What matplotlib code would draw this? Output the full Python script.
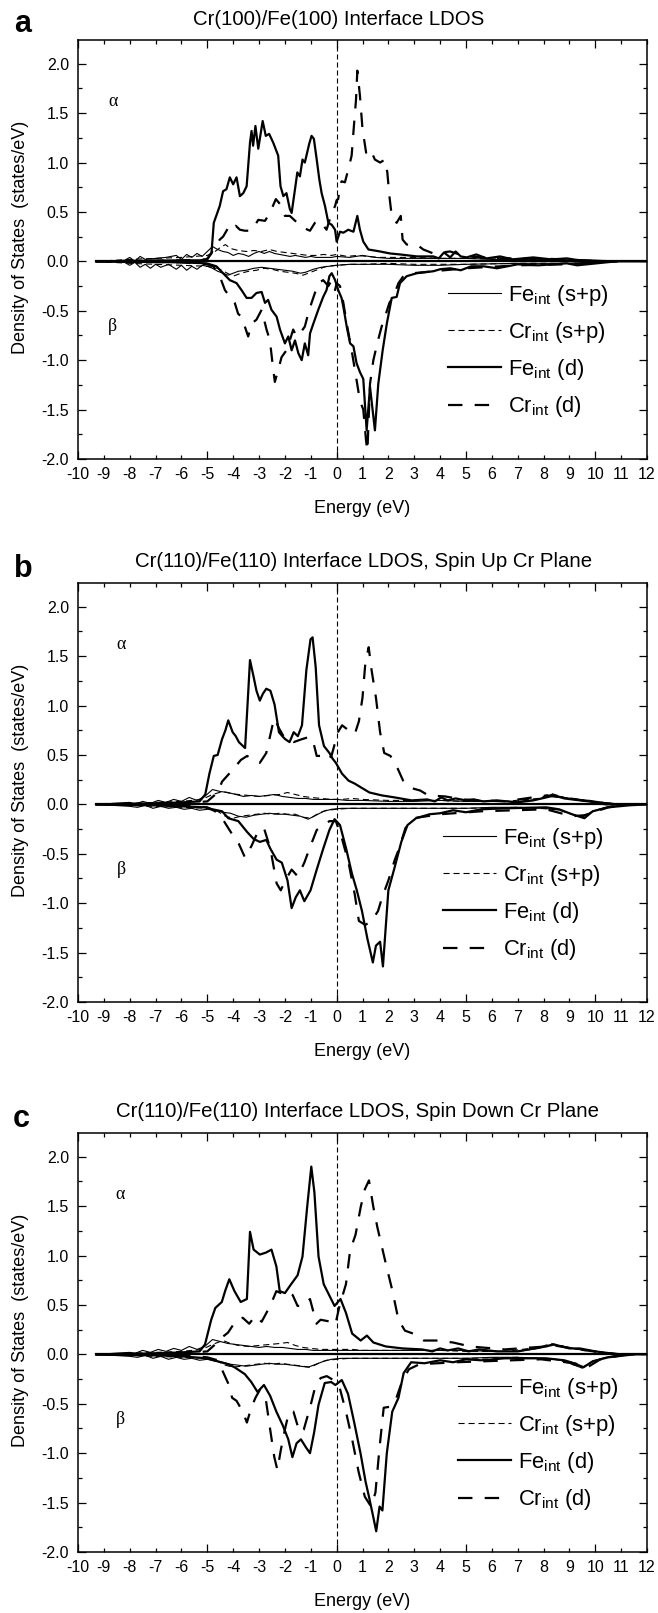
import matplotlib
matplotlib.use('Agg')
import matplotlib.pyplot as plt
from matplotlib.ticker import MultipleLocator, FuncFormatter

plt.rcParams['font.family'] = ['Liberation Sans', 'DejaVu Sans']
plt.rcParams['mathtext.fontset'] = 'custom'
plt.rcParams['mathtext.rm'] = 'Liberation Sans'
plt.rcParams['mathtext.it'] = 'Liberation Sans:italic'
plt.rcParams['mathtext.default'] = 'regular'
plt.rcParams['axes.unicode_minus'] = False

# ---------------- data (energy in eV, DOS in states/eV) ----------------
titles = ["Cr(100)/Fe(100) Interface LDOS",
          "Cr(110)/Fe(110) Interface LDOS, Spin Up Cr Plane",
          "Cr(110)/Fe(110) Interface LDOS, Spin Down Cr Plane"]
panel_letters = ["a", "b", "c"]
legend_labels = ["Fe$_{int}$ (s+p)", "Cr$_{int}$ (s+p)", "Fe$_{int}$ (d)", "Cr$_{int}$ (d)"]

# ---- panel a ----
a_fe_sp_up_E = [-9.3, -8.2, -8.0, -7.8, -7.6, -7.4, -7.0, -6.6, -6.2, -6.0, -5.8, -5.6, -5.4, -5.2, -5.0, -4.8, -4.6, -4.4, -4.2, -4.0, -3.8, -3.6, -3.4, -3.2, -3.0, -2.8, -2.6, -2.4, -2.2, -2.0, -1.8, -1.6, -1.4, -1.2, -1.0, -0.8, -0.5, -0.2, 0.0, 0.5, 1.0, 1.5, 2.0, 3.0, 4.0, 5.0, 6.0, 8.0, 10.0, 11.0]
a_fe_sp_up = [0.0, 0.01, 0.04, 0.0, 0.05, 0.02, 0.03, 0.04, 0.06, 0.02, 0.07, 0.04, 0.08, 0.05, 0.1, 0.15, 0.12, 0.1, 0.09, 0.06, 0.08, 0.07, 0.05, 0.08, 0.1, 0.08, 0.1, 0.08, 0.07, 0.06, 0.05, 0.06, 0.05, 0.04, 0.05, 0.04, 0.04, 0.04, 0.05, 0.04, 0.06, 0.04, 0.03, 0.03, 0.03, 0.03, 0.02, 0.02, 0.01, 0.0]
a_cr_sp_up_E = [-9.3, -8.0, -7.0, -6.0, -5.5, -5.0, -4.7, -4.5, -4.3, -4.1, -3.8, -3.5, -3.2, -2.9, -2.6, -2.3, -2.0, -1.7, -1.4, -1.1, -0.8, -0.5, -0.2, 0.0, 0.4, 0.8, 1.2, 1.6, 2.0, 3.0, 4.0, 5.0, 7.0, 9.0, 11.0]
a_cr_sp_up = [0.0, 0.02, 0.03, 0.04, 0.05, 0.06, 0.1, 0.14, 0.17, 0.13, 0.11, 0.1, 0.11, 0.1, 0.12, 0.1, 0.09, 0.08, 0.07, 0.06, 0.06, 0.07, 0.06, 0.07, 0.05, 0.06, 0.05, 0.04, 0.04, 0.04, 0.03, 0.03, 0.02, 0.01, 0.0]
a_fe_sp_dn_E = [-9.3, -8.2, -8.0, -7.8, -7.6, -7.4, -7.2, -7.0, -6.8, -6.5, -6.2, -6.0, -5.8, -5.6, -5.4, -5.2, -5.0, -4.8, -4.6, -4.4, -4.2, -4.0, -3.8, -3.5, -3.2, -2.9, -2.6, -2.3, -2.0, -1.7, -1.4, -1.2, -0.9, -0.6, -0.3, 0.0, 0.5, 1.0, 2.0, 3.0, 4.0, 5.0, 7.0, 9.0, 11.0]
a_fe_sp_dn = [0.0, -0.01, -0.04, -0.01, -0.06, -0.03, -0.07, -0.03, -0.06, -0.03, -0.08, -0.04, -0.09, -0.05, -0.08, -0.04, -0.05, -0.07, -0.1, -0.12, -0.14, -0.12, -0.1, -0.09, -0.07, -0.06, -0.07, -0.08, -0.09, -0.1, -0.12, -0.11, -0.08, -0.06, -0.05, -0.04, -0.03, -0.03, -0.03, -0.04, -0.04, -0.03, -0.02, -0.02, 0.0]
a_cr_sp_dn_E = [-9.3, -8.0, -7.0, -6.0, -5.0, -4.6, -4.3, -4.0, -3.7, -3.4, -3.1, -2.8, -2.5, -2.2, -1.9, -1.6, -1.3, -1.0, -0.7, -0.4, 0.0, 0.5, 1.0, 2.0, 3.0, 5.0, 7.0, 9.0, 11.0]
a_cr_sp_dn = [0.0, -0.02, -0.03, -0.04, -0.05, -0.07, -0.11, -0.15, -0.12, -0.1, -0.09, -0.07, -0.08, -0.1, -0.11, -0.12, -0.14, -0.11, -0.08, -0.05, -0.04, -0.03, -0.03, -0.02, -0.03, -0.03, -0.02, -0.02, 0.0]
a_fe_d_up_E = [-9.3, -6.0, -5.3, -5.03, -4.84, -4.75, -4.52, -4.39, -4.26, -4.13, -4.0, -3.87, -3.74, -3.61, -3.48, -3.35, -3.29, -3.23, -3.14, -3.03, -2.86, -2.74, -2.61, -2.45, -2.26, -2.17, -2.06, -1.94, -1.81, -1.74, -1.61, -1.52, -1.42, -1.32, -1.23, -1.06, -0.97, -0.88, -0.77, -0.67, -0.58, -0.45, -0.32, -0.19, -0.06, 0.0, 0.13, 0.26, 0.45, 0.65, 0.8, 0.9, 1.03, 1.23, 1.68, 2.06, 2.45, 3.1, 3.74, 3.95, 4.15, 4.39, 4.6, 4.8, 5.03, 5.4, 5.8, 6.32, 6.8, 7.6, 8.3, 8.9, 9.4, 10.8, 12.0]
a_fe_d_up = [0.0, 0.01, 0.01, 0.02, 0.08, 0.39, 0.56, 0.71, 0.73, 0.85, 0.78, 0.85, 0.66, 0.69, 0.76, 1.2, 1.32, 1.17, 1.37, 1.14, 1.42, 1.27, 1.29, 1.2, 1.07, 0.76, 0.66, 0.69, 0.53, 0.49, 0.73, 0.9, 0.86, 1.03, 1.0, 1.19, 1.27, 1.24, 1.03, 0.83, 0.69, 0.56, 0.39, 0.37, 0.32, 0.2, 0.3, 0.29, 0.32, 0.3, 0.46, 0.32, 0.2, 0.12, 0.1, 0.08, 0.07, 0.05, 0.05, 0.03, 0.09, 0.04, 0.1, 0.05, 0.04, 0.07, 0.03, 0.05, 0.02, 0.04, 0.02, 0.03, 0.01, 0.0, 0.0]
a_fe_d_dn_E = [-9.3, -6.0, -5.03, -4.65, -4.39, -4.13, -3.87, -3.68, -3.48, -3.29, -3.1, -2.9, -2.77, -2.65, -2.52, -2.32, -2.19, -2.0, -1.87, -1.74, -1.61, -1.48, -1.35, -1.23, -1.1, -1.03, -0.9, -0.71, -0.52, -0.39, -0.28, -0.19, -0.06, 0.06, 0.19, 0.26, 0.39, 0.52, 0.65, 0.77, 0.9, 1.03, 1.16, 1.29, 1.48, 1.61, 1.78, 1.94, 2.13, 2.32, 2.45, 2.71, 3.1, 3.74, 4.0, 4.39, 4.8, 5.2, 5.68, 6.2, 7.0, 7.8, 8.9, 9.3, 10.8]
a_fe_d_dn = [0.0, -0.01, -0.02, -0.05, -0.12, -0.19, -0.22, -0.29, -0.37, -0.37, -0.32, -0.31, -0.42, -0.39, -0.49, -0.56, -0.69, -0.83, -0.76, -0.9, -0.8, -0.93, -1.0, -0.83, -0.95, -0.73, -0.63, -0.49, -0.36, -0.29, -0.15, -0.12, -0.19, -0.29, -0.37, -0.46, -0.66, -0.83, -0.86, -1.03, -1.12, -1.19, -1.71, -1.27, -1.71, -1.24, -0.9, -0.63, -0.37, -0.36, -0.22, -0.15, -0.12, -0.1, -0.08, -0.07, -0.09, -0.05, -0.05, -0.07, -0.03, -0.04, -0.02, -0.04, 0.0]
a_cr_d_up_E = [-9.3, -6.0, -5.0, -4.52, -4.39, -4.19, -4.06, -3.9, -3.74, -3.55, -3.29, -3.03, -2.77, -2.58, -2.35, -2.19, -2.0, -1.81, -1.52, -1.29, -1.03, -0.84, -0.65, -0.39, -0.19, -0.06, 0.0, 0.06, 0.13, 0.19, 0.32, 0.45, 0.58, 0.65, 0.75, 0.8, 0.9, 1.0, 1.14, 1.29, 1.48, 1.68, 1.87, 1.96, 2.04, 2.13, 2.32, 2.48, 2.55, 2.71, 3.1, 3.35, 3.74, 4.39, 5.0, 6.3, 7.5, 8.9, 10.2, 11.0]
a_cr_d_up = [0.0, 0.01, 0.02, 0.22, 0.25, 0.34, 0.31, 0.36, 0.32, 0.31, 0.31, 0.42, 0.41, 0.49, 0.63, 0.58, 0.46, 0.46, 0.39, 0.34, 0.31, 0.39, 0.41, 0.32, 0.49, 0.56, 0.62, 0.63, 0.76, 0.81, 0.8, 0.93, 1.07, 1.31, 1.64, 1.93, 1.68, 1.34, 1.1, 1.14, 1.03, 1.0, 1.03, 0.9, 0.66, 0.46, 0.39, 0.46, 0.22, 0.17, 0.17, 0.12, 0.08, 0.1, 0.05, 0.03, 0.03, 0.02, 0.0, 0.0]
a_cr_d_dn_E = [-9.3, -6.0, -5.0, -4.77, -4.52, -4.32, -4.13, -3.94, -3.81, -3.68, -3.42, -3.29, -3.1, -2.9, -2.71, -2.58, -2.48, -2.39, -2.26, -2.13, -1.94, -1.81, -1.68, -1.55, -1.42, -1.23, -1.1, -0.97, -0.84, -0.71, -0.52, -0.32, -0.19, -0.06, 0.0, 0.13, 0.26, 0.39, 0.58, 0.77, 0.9, 1.03, 1.14, 1.19, 1.29, 1.42, 1.57, 1.74, 1.87, 2.04, 2.19, 2.39, 2.58, 2.97, 3.74, 5.0, 7.0, 8.9, 10.5]
a_cr_d_dn = [0.0, -0.01, -0.03, -0.05, -0.15, -0.29, -0.36, -0.42, -0.53, -0.56, -0.76, -0.63, -0.59, -0.49, -0.69, -0.8, -1.03, -1.22, -1.1, -0.97, -0.9, -0.8, -0.69, -0.76, -0.73, -0.66, -0.53, -0.42, -0.32, -0.22, -0.19, -0.25, -0.19, -0.29, -0.22, -0.25, -0.42, -0.63, -0.9, -1.2, -1.41, -1.5, -1.82, -1.92, -1.24, -1.0, -0.83, -0.66, -0.56, -0.42, -0.36, -0.22, -0.15, -0.12, -0.1, -0.07, -0.04, -0.03, 0.0]

# ---- panel b ----
b_fe_sp_up_E = [-9.3, -8.0, -7.8, -7.5, -7.2, -6.9, -6.6, -6.3, -6.0, -5.7, -5.4, -5.1, -4.8, -4.5, -4.2, -3.9, -3.6, -3.3, -3.0, -2.7, -2.4, -2.1, -1.8, -1.5, -1.2, -0.9, -0.6, -0.3, 0.0, 0.4, 1.0, 2.0, 3.0, 4.0, 5.0, 6.0, 7.0, 7.8, 8.3, 8.8, 9.3, 9.8, 10.3, 11.0]
b_fe_sp_up = [0.0, 0.02, 0.0, 0.03, 0.01, 0.04, 0.02, 0.05, 0.03, 0.07, 0.04, 0.08, 0.15, 0.13, 0.12, 0.1, 0.08, 0.09, 0.08, 0.09, 0.1, 0.08, 0.07, 0.06, 0.06, 0.05, 0.05, 0.05, 0.05, 0.04, 0.04, 0.03, 0.03, 0.04, 0.03, 0.03, 0.03, 0.05, 0.1, 0.07, 0.05, 0.04, 0.02, 0.0]
b_cr_sp_up_E = [-9.3, -8.0, -7.0, -6.0, -5.2, -4.8, -4.4, -4.1, -3.8, -3.4, -3.0, -2.6, -2.2, -1.9, -1.6, -1.3, -1.0, -0.6, -0.2, 0.2, 0.6, 1.0, 2.0, 3.0, 4.0, 5.0, 6.5, 7.8, 8.3, 8.8, 9.5, 10.3, 11.0]
b_cr_sp_up = [0.0, 0.01, 0.02, 0.03, 0.05, 0.1, 0.13, 0.11, 0.1, 0.09, 0.08, 0.09, 0.1, 0.12, 0.1, 0.08, 0.07, 0.06, 0.05, 0.05, 0.06, 0.05, 0.04, 0.04, 0.04, 0.03, 0.03, 0.06, 0.11, 0.07, 0.04, 0.02, 0.0]
b_fe_sp_dn_E = [-9.3, -8.0, -7.7, -7.4, -7.1, -6.8, -6.5, -6.2, -5.9, -5.6, -5.3, -5.0, -4.7, -4.4, -4.1, -3.8, -3.5, -3.2, -2.9, -2.6, -2.3, -2.0, -1.7, -1.4, -1.1, -0.8, -0.5, -0.2, 0.2, 1.0, 2.0, 3.0, 4.0, 5.0, 6.0, 7.0, 8.0, 8.7, 9.1, 9.5, 9.9, 10.4, 11.2]
b_fe_sp_dn = [0.0, -0.02, -0.03, -0.01, -0.04, -0.02, -0.04, -0.03, -0.05, -0.04, -0.06, -0.05, -0.06, -0.08, -0.09, -0.12, -0.13, -0.11, -0.1, -0.09, -0.1, -0.1, -0.11, -0.12, -0.15, -0.11, -0.07, -0.05, -0.04, -0.04, -0.04, -0.04, -0.04, -0.04, -0.03, -0.03, -0.04, -0.06, -0.1, -0.13, -0.07, -0.03, 0.0]
b_cr_sp_dn_E = [-9.3, -8.0, -7.0, -6.0, -5.0, -4.6, -4.3, -4.0, -3.7, -3.4, -3.1, -2.8, -2.5, -2.2, -1.9, -1.6, -1.3, -1.0, -0.7, -0.4, 0.0, 0.5, 1.5, 3.0, 5.0, 7.0, 8.5, 9.2, 9.5, 10.0, 10.6, 11.2]
b_cr_sp_dn = [0.0, -0.01, -0.02, -0.03, -0.04, -0.07, -0.12, -0.14, -0.12, -0.11, -0.1, -0.09, -0.1, -0.09, -0.1, -0.1, -0.13, -0.14, -0.09, -0.06, -0.05, -0.04, -0.04, -0.04, -0.04, -0.03, -0.05, -0.11, -0.12, -0.06, -0.02, 0.0]
b_fe_d_up_E = [-9.3, -7.0, -6.0, -5.3, -5.08, -4.92, -4.75, -4.6, -4.43, -4.3, -4.19, -4.02, -3.9, -3.78, -3.54, -3.46, -3.35, -3.21, -3.1, -2.97, -2.85, -2.72, -2.56, -2.4, -2.23, -2.1, -1.99, -1.82, -1.66, -1.5, -1.34, -1.17, -1.01, -0.93, -0.81, -0.68, -0.49, -0.28, -0.15, -0.03, 0.21, 0.46, 0.7, 0.95, 1.27, 1.76, 2.25, 2.9, 3.5, 3.8, 4.04, 4.3, 4.6, 5.0, 5.3, 5.67, 6.2, 6.97, 7.6, 8.1, 8.4, 8.8, 9.1, 9.75, 10.4, 12.0]
b_fe_d_up = [0.0, 0.01, 0.02, 0.03, 0.1, 0.31, 0.49, 0.5, 0.66, 0.75, 0.85, 0.73, 0.69, 0.63, 0.57, 0.94, 1.46, 1.29, 1.15, 1.05, 1.12, 1.17, 1.15, 1.01, 0.73, 0.69, 0.66, 0.63, 0.73, 0.69, 0.8, 1.36, 1.67, 1.69, 1.39, 0.8, 0.59, 0.52, 0.46, 0.42, 0.31, 0.24, 0.21, 0.17, 0.12, 0.09, 0.07, 0.04, 0.05, 0.03, 0.07, 0.04, 0.06, 0.04, 0.05, 0.03, 0.04, 0.02, 0.04, 0.07, 0.09, 0.06, 0.05, 0.03, 0.0, 0.0]
b_fe_d_dn_E = [-9.3, -7.0, -6.0, -5.08, -4.8, -4.43, -4.19, -3.8, -3.46, -3.21, -2.97, -2.72, -2.56, -2.32, -2.12, -1.9, -1.74, -1.58, -1.42, -1.25, -1.01, -0.77, -0.52, -0.28, -0.08, 0.13, 0.37, 0.59, 0.78, 0.98, 1.19, 1.4, 1.52, 1.68, 1.79, 2.0, 2.25, 2.5, 2.74, 3.07, 3.6, 4.0, 4.5, 5.0, 5.6, 6.5, 8.1, 8.6, 9.1, 9.58, 9.9, 10.5, 11.3, 12.0]
b_fe_d_dn = [0.0, -0.01, -0.02, -0.03, -0.05, -0.07, -0.14, -0.17, -0.28, -0.35, -0.38, -0.36, -0.45, -0.56, -0.59, -0.77, -1.05, -0.94, -0.87, -0.98, -0.87, -0.66, -0.45, -0.26, -0.15, -0.21, -0.45, -0.7, -0.87, -1.08, -1.36, -1.6, -1.43, -1.39, -1.64, -0.87, -0.63, -0.38, -0.21, -0.14, -0.1, -0.09, -0.06, -0.08, -0.05, -0.04, -0.03, -0.05, -0.1, -0.14, -0.07, -0.03, -0.01, 0.0]
b_cr_d_up_E = [-9.3, -6.0, -5.0, -4.6, -4.43, -4.02, -3.7, -3.46, -3.21, -2.97, -2.72, -2.48, -2.4, -2.23, -1.99, -1.66, -1.34, -1.09, -0.93, -0.77, -0.52, -0.36, -0.2, 0.05, 0.21, 0.46, 0.7, 0.86, 1.0, 1.11, 1.24, 1.35, 1.52, 1.68, 1.84, 2.08, 2.33, 2.57, 2.82, 3.23, 3.55, 4.2, 4.86, 6.5, 8.1, 8.4, 9.3, 9.9, 11.0]
b_cr_d_up = [0.0, 0.01, 0.03, 0.12, 0.23, 0.35, 0.45, 0.49, 0.45, 0.42, 0.52, 0.8, 0.87, 0.77, 0.66, 0.63, 0.66, 0.68, 0.66, 0.49, 0.49, 0.45, 0.49, 0.73, 0.8, 0.75, 0.71, 0.84, 1.08, 1.43, 1.59, 1.36, 1.08, 0.73, 0.52, 0.49, 0.38, 0.24, 0.17, 0.14, 0.09, 0.08, 0.05, 0.03, 0.09, 0.08, 0.05, 0.02, 0.0]
b_cr_d_dn_E = [-9.3, -6.0, -5.0, -4.7, -4.43, -4.19, -4.02, -3.78, -3.54, -3.29, -3.05, -2.81, -2.56, -2.32, -2.16, -1.99, -1.74, -1.5, -1.25, -1.01, -0.77, -0.52, -0.28, -0.03, 0.21, 0.46, 0.7, 0.86, 1.11, 1.35, 1.6, 1.76, 2.0, 2.25, 2.41, 2.66, 2.98, 4.0, 5.6, 8.1, 9.1, 9.58, 10.5, 11.3]
b_cr_d_dn = [0.0, -0.01, -0.03, -0.07, -0.14, -0.24, -0.31, -0.4, -0.54, -0.42, -0.28, -0.24, -0.45, -0.8, -0.87, -0.77, -0.66, -0.73, -0.59, -0.42, -0.26, -0.21, -0.17, -0.17, -0.35, -0.59, -0.91, -1.18, -1.22, -1.18, -1.08, -0.94, -0.77, -0.56, -0.45, -0.24, -0.14, -0.1, -0.07, -0.05, -0.12, -0.11, -0.03, 0.0]

# ---- panel c ----
c_fe_sp_up_E = [-9.3, -8.0, -7.8, -7.5, -7.2, -6.9, -6.6, -6.3, -6.0, -5.7, -5.4, -5.1, -4.8, -4.5, -4.2, -3.9, -3.6, -3.3, -3.0, -2.7, -2.4, -2.1, -1.8, -1.5, -1.2, -0.9, -0.6, -0.3, 0.0, 0.4, 1.0, 2.0, 3.0, 4.0, 5.0, 6.0, 7.0, 7.8, 8.3, 8.8, 9.3, 9.8, 10.3, 11.0]
c_fe_sp_up = [0.0, 0.02, 0.01, 0.04, 0.02, 0.05, 0.03, 0.06, 0.04, 0.08, 0.05, 0.08, 0.15, 0.13, 0.11, 0.1, 0.09, 0.08, 0.07, 0.08, 0.07, 0.07, 0.06, 0.05, 0.05, 0.04, 0.04, 0.04, 0.04, 0.04, 0.04, 0.04, 0.04, 0.04, 0.04, 0.03, 0.03, 0.06, 0.1, 0.08, 0.05, 0.04, 0.02, 0.0]
c_cr_sp_up_E = [-9.3, -8.0, -7.0, -6.0, -5.2, -4.8, -4.4, -4.1, -3.8, -3.4, -3.0, -2.6, -2.2, -1.9, -1.6, -1.3, -1.0, -0.6, -0.2, 0.2, 0.6, 1.0, 2.0, 3.0, 4.0, 5.0, 6.5, 7.8, 8.3, 8.8, 9.5, 10.3, 11.0]
c_cr_sp_up = [0.0, 0.01, 0.02, 0.03, 0.05, 0.1, 0.14, 0.11, 0.09, 0.08, 0.09, 0.1, 0.11, 0.12, 0.09, 0.07, 0.06, 0.05, 0.05, 0.05, 0.05, 0.04, 0.04, 0.04, 0.04, 0.03, 0.03, 0.07, 0.11, 0.08, 0.04, 0.02, 0.0]
c_fe_sp_dn_E = [-9.3, -8.0, -7.7, -7.4, -7.1, -6.8, -6.5, -6.2, -5.9, -5.6, -5.3, -5.0, -4.7, -4.4, -4.1, -3.8, -3.5, -3.2, -2.9, -2.6, -2.3, -2.0, -1.7, -1.4, -1.1, -0.8, -0.5, -0.2, 0.2, 1.0, 2.0, 3.0, 4.0, 5.0, 6.0, 7.0, 8.0, 8.7, 9.1, 9.5, 9.9, 10.4, 11.2]
c_fe_sp_dn = [0.0, -0.02, -0.03, -0.01, -0.04, -0.02, -0.05, -0.03, -0.05, -0.04, -0.06, -0.05, -0.07, -0.08, -0.1, -0.11, -0.12, -0.11, -0.1, -0.09, -0.1, -0.1, -0.11, -0.12, -0.13, -0.1, -0.07, -0.05, -0.04, -0.04, -0.04, -0.04, -0.04, -0.04, -0.03, -0.03, -0.04, -0.06, -0.1, -0.14, -0.07, -0.03, 0.0]
c_cr_sp_dn_E = [-9.3, -8.0, -7.0, -6.0, -5.0, -4.6, -4.3, -4.0, -3.7, -3.4, -3.1, -2.8, -2.5, -2.2, -1.9, -1.6, -1.3, -1.0, -0.7, -0.4, 0.0, 0.5, 1.5, 3.0, 5.0, 7.0, 8.5, 9.2, 9.5, 10.0, 10.6, 11.2]
c_cr_sp_dn = [0.0, -0.01, -0.02, -0.03, -0.04, -0.07, -0.11, -0.13, -0.12, -0.11, -0.1, -0.09, -0.1, -0.09, -0.1, -0.11, -0.12, -0.13, -0.09, -0.06, -0.05, -0.04, -0.04, -0.04, -0.04, -0.03, -0.05, -0.11, -0.13, -0.06, -0.02, 0.0]
c_fe_d_up_E = [-9.3, -7.0, -6.0, -5.3, -5.09, -4.85, -4.69, -4.44, -4.3, -4.15, -3.95, -3.71, -3.47, -3.35, -3.21, -2.97, -2.73, -2.52, -2.33, -2.2, -2.0, -1.76, -1.51, -1.32, -1.14, -0.98, -0.86, -0.7, -0.5, -0.29, -0.08, 0.15, 0.36, 0.6, 0.93, 1.17, 1.42, 1.9, 2.55, 3.3, 3.7, 4.0, 4.3, 4.7, 5.1, 5.5, 6.2, 7.0, 8.1, 8.4, 9.0, 9.4, 10.0, 10.9, 12.0]
c_fe_d_up = [0.0, 0.01, 0.02, 0.03, 0.1, 0.35, 0.47, 0.53, 0.65, 0.76, 0.64, 0.53, 0.56, 1.24, 1.06, 1.01, 1.03, 1.06, 0.89, 0.64, 0.62, 0.71, 0.8, 0.99, 1.49, 1.9, 1.64, 0.99, 0.71, 0.6, 0.49, 0.56, 0.42, 0.21, 0.14, 0.19, 0.12, 0.08, 0.06, 0.05, 0.03, 0.06, 0.04, 0.06, 0.03, 0.05, 0.03, 0.03, 0.08, 0.1, 0.06, 0.06, 0.03, 0.0, 0.0]
c_fe_d_dn_E = [-9.3, -7.0, -6.0, -5.0, -4.6, -4.2, -3.95, -3.55, -3.3, -3.06, -2.81, -2.57, -2.33, -2.08, -1.87, -1.71, -1.55, -1.38, -1.19, -1.03, -0.87, -0.7, -0.46, -0.21, -0.05, 0.2, 0.44, 0.68, 0.93, 1.12, 1.25, 1.42, 1.53, 1.66, 1.77, 1.94, 2.15, 2.39, 2.59, 2.88, 3.4, 4.0, 4.5, 5.0, 5.6, 6.5, 8.1, 8.8, 9.06, 9.55, 9.9, 10.5, 11.5]
c_fe_d_dn = [0.0, -0.01, -0.02, -0.04, -0.07, -0.1, -0.13, -0.2, -0.28, -0.38, -0.31, -0.42, -0.58, -0.72, -0.86, -1.04, -0.9, -0.86, -0.94, -1.0, -0.79, -0.51, -0.29, -0.28, -0.31, -0.26, -0.4, -0.69, -1.01, -1.29, -1.44, -1.65, -1.79, -1.54, -1.58, -1.0, -0.58, -0.44, -0.19, -0.08, -0.09, -0.06, -0.08, -0.05, -0.06, -0.04, -0.04, -0.06, -0.08, -0.13, -0.07, -0.03, 0.0]
c_cr_d_up_E = [-9.3, -6.0, -5.0, -4.7, -4.44, -4.2, -3.87, -3.63, -3.38, -3.14, -2.9, -2.57, -2.33, -2.16, -1.92, -1.7, -1.51, -1.27, -1.03, -0.78, -0.62, -0.21, -0.05, 0.11, 0.36, 0.52, 0.73, 0.93, 1.09, 1.25, 1.42, 1.58, 1.74, 1.9, 2.15, 2.39, 2.64, 2.96, 3.37, 3.86, 4.5, 5.16, 6.5, 8.1, 8.4, 9.4, 10.2, 11.0]
c_cr_d_up = [0.0, 0.01, 0.03, 0.1, 0.17, 0.22, 0.35, 0.37, 0.31, 0.39, 0.33, 0.49, 0.64, 0.62, 0.64, 0.6, 0.49, 0.49, 0.56, 0.31, 0.35, 0.33, 0.3, 0.49, 0.71, 1.05, 1.21, 1.49, 1.67, 1.76, 1.49, 1.28, 1.1, 0.92, 0.65, 0.35, 0.24, 0.21, 0.14, 0.14, 0.12, 0.08, 0.05, 0.08, 0.09, 0.05, 0.02, 0.0]
c_cr_d_dn_E = [-9.3, -6.0, -5.0, -4.6, -4.44, -4.2, -4.04, -3.87, -3.63, -3.47, -3.3, -3.14, -2.97, -2.73, -2.57, -2.41, -2.29, -2.16, -2.0, -1.84, -1.67, -1.43, -1.27, -1.03, -0.83, -0.62, -0.38, -0.13, 0.11, 0.36, 0.6, 0.85, 1.09, 1.33, 1.5, 1.66, 1.82, 2.07, 2.31, 2.55, 2.8, 3.2, 4.6, 7.9, 9.2, 9.7, 10.2, 11.2]
c_cr_d_dn = [0.0, -0.01, -0.03, -0.06, -0.15, -0.29, -0.44, -0.47, -0.58, -0.69, -0.54, -0.44, -0.36, -0.47, -0.76, -1.04, -1.17, -0.97, -0.76, -0.58, -0.58, -0.79, -0.76, -0.54, -0.33, -0.24, -0.22, -0.26, -0.33, -0.58, -0.86, -1.19, -1.44, -1.54, -1.4, -0.94, -0.54, -0.53, -0.44, -0.26, -0.15, -0.1, -0.08, -0.05, -0.09, -0.13, -0.05, 0.0]

panels = [
    dict(fe_sp=((a_fe_sp_up_E, a_fe_sp_up), (a_fe_sp_dn_E, a_fe_sp_dn)),
         cr_sp=((a_cr_sp_up_E, a_cr_sp_up), (a_cr_sp_dn_E, a_cr_sp_dn)),
         fe_d=((a_fe_d_up_E, a_fe_d_up), (a_fe_d_dn_E, a_fe_d_dn)),
         cr_d=((a_cr_d_up_E, a_cr_d_up), (a_cr_d_dn_E, a_cr_d_dn))),
    dict(fe_sp=((b_fe_sp_up_E, b_fe_sp_up), (b_fe_sp_dn_E, b_fe_sp_dn)),
         cr_sp=((b_cr_sp_up_E, b_cr_sp_up), (b_cr_sp_dn_E, b_cr_sp_dn)),
         fe_d=((b_fe_d_up_E, b_fe_d_up), (b_fe_d_dn_E, b_fe_d_dn)),
         cr_d=((b_cr_d_up_E, b_cr_d_up), (b_cr_d_dn_E, b_cr_d_dn))),
    dict(fe_sp=((c_fe_sp_up_E, c_fe_sp_up), (c_fe_sp_dn_E, c_fe_sp_dn)),
         cr_sp=((c_cr_sp_up_E, c_cr_sp_up), (c_cr_sp_dn_E, c_cr_sp_dn)),
         fe_d=((c_fe_d_up_E, c_fe_d_up), (c_fe_d_dn_E, c_fe_d_dn)),
         cr_d=((c_cr_d_up_E, c_cr_d_up), (c_cr_d_dn_E, c_cr_d_dn))),
]

# ---------------- layout ----------------
W, H = 658, 1613
fig = plt.figure(figsize=(W / 100, H / 100), dpi=100)

ax_left, ax_w, ax_h = 78, 569, 419
ax_tops = [40, 583, 1133]
title_pos = [(339, 25), (364, 567), (358, 1117)]
letter_pos = [(14, 32), (14, 577), (13, 1127)]
legend_x = [448, 443, 458]
alpha_x = [-8.83, -8.5, -8.55]

styles = dict(
    fe_sp=dict(color='black', lw=0.8, ls='-'),
    cr_sp=dict(color='black', lw=0.8, ls=(0, (5.5, 3.5))),
    fe_d=dict(color='black', lw=1.6, ls='-'),
    cr_d=dict(color='black', lw=1.6, ls=(0, (6.5, 5.5))),
)
order = ['fe_sp', 'cr_sp', 'fe_d', 'cr_d']

for i, pdata in enumerate(panels):
    top = ax_tops[i]
    ax = fig.add_axes([ax_left / W, 1 - (top + ax_h) / H, ax_w / W, ax_h / H])
    ax.set_xlim(-10, 12)
    ax.set_ylim(-2.0, 2.24)

    # baseline and Fermi level
    ax.axhline(0, xmin=(-9.3 + 10) / 22, xmax=1, color='black', lw=1.6, zorder=1)
    ax.axvline(0, color='black', lw=0.8, ls=(0, (4.5, 2.7)), zorder=1)

    handles = []
    for key in order:
        (eu, du), (ed, dd) = pdata[key]
        st = styles[key]
        h, = ax.plot(eu, du, color=st['color'], lw=st['lw'], ls=st['ls'], zorder=2)
        ax.plot(ed, dd, color=st['color'], lw=st['lw'], ls=st['ls'], zorder=2)
        handles.append(h)

    ax.legend(handles, legend_labels, loc='upper left',
              bbox_to_anchor=((legend_x[i] - ax_left) / ax_w, 0.42),
              frameon=False, fontsize=15.8, handlelength=2.4, handletextpad=0.32,
              labelspacing=0.55, borderpad=0, borderaxespad=0)

    # alpha / beta spin labels
    ax.text(alpha_x[i], 1.615, 'α', fontsize=13, family=['Liberation Serif', 'DejaVu Serif'],
            ha='left', va='center')
    ax.text(alpha_x[i], -0.66, 'β', fontsize=13, family=['Liberation Serif', 'DejaVu Serif'],
            ha='left', va='center')

    # ticks
    ax.xaxis.set_major_locator(MultipleLocator(5))
    ax.xaxis.set_minor_locator(MultipleLocator(1))
    fmt = FuncFormatter(lambda v, p: f'{v:.0f}')
    ax.xaxis.set_major_formatter(fmt)
    ax.xaxis.set_minor_formatter(fmt)
    ax.yaxis.set_major_locator(MultipleLocator(0.5))
    ax.yaxis.set_minor_locator(MultipleLocator(0.25))
    ax.yaxis.set_major_formatter(FuncFormatter(lambda v, p: f'{v:.1f}'))
    ax.tick_params(which='both', direction='in', top=True, right=True, width=0.9,
                   labelsize=11.5)
    ax.tick_params(which='major', length=6)
    ax.tick_params(which='minor', length=3)
    ax.tick_params(axis='x', which='both', pad=5.5)
    ax.tick_params(axis='y', which='both', pad=6.5)
    for s in ax.spines.values():
        s.set_linewidth(1.1)

    ax.set_xlabel('Energy (eV)', fontsize=13)
    ax.set_ylabel('Density of States  (states/eV)', fontsize=13)
    ax.xaxis.set_label_coords(0.5, -41 / ax_h)
    ax.yaxis.set_label_coords((29 - ax_left) / ax_w, 0.528)

    tx, ty = title_pos[i]
    fig.text(tx / W, 1 - ty / H, titles[i], fontsize=14.7, ha='center', va='baseline')
    lx, ly = letter_pos[i]
    fig.text(lx / W, 1 - ly / H, panel_letters[i], fontsize=22, fontweight='bold',
             ha='left', va='baseline')

fig.savefig('out.png', dpi=100)
